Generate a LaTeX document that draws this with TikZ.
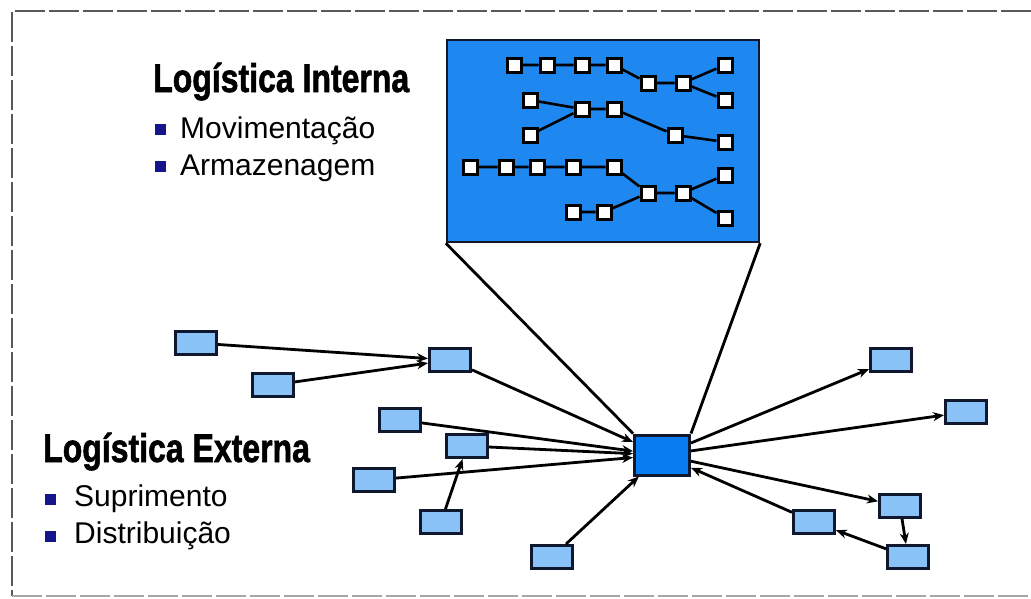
\documentclass[tikz,border=0pt]{standalone}
\usepackage{fontspec}
\setmainfont{Liberation Sans}
\newfontfamily\headfont{Liberation Sans}[BoldFeatures={FakeBold=1.6}]
\usetikzlibrary{arrows.meta}
\definecolor{bigblue}{HTML}{1E88F0}
\definecolor{hubblue}{HTML}{0A7CF2}
\definecolor{lightblue}{HTML}{88C2F6}
\definecolor{bulletblue}{HTML}{16168C}
\definecolor{edgedark}{HTML}{101830}
\begin{document}
\begin{tikzpicture}[x=1pt,y=-1pt,
  sbox/.style={draw=edgedark,line width=3pt,fill=lightblue,inner sep=0pt,minimum width=41pt,minimum height=23pt},
  hubbox/.style={draw=edgedark,line width=3pt,fill=hubblue,inner sep=0pt,minimum width=55pt,minimum height=40pt},
  wsq/.style={draw=black,line width=3pt,fill=white,inner sep=0pt,minimum size=14pt},
  net/.style={draw=black,line width=2.6pt},
  arr/.style={draw=black,line width=2.8pt,-{Stealth[length=11pt,width=9pt]}},
  plain/.style={draw=black,line width=2.8pt},
  frame/.style={draw=black!65,line width=2.4pt,dash pattern=on 30pt off 4pt},
  head/.style={anchor=base west,inner sep=0pt,font=\headfont\fontsize{40}{44}\selectfont\bfseries},
  item/.style={anchor=base west,inner sep=0pt,font=\fontsize{30}{34}\selectfont},
  bul/.style={fill=bulletblue,inner sep=0pt,minimum size=11pt}
]
\useasboundingbox (0,0) rectangle (1031,598);
% frame
\draw[frame] (1031,11) -- (12,11) -- (12,596);
\draw[frame,draw=black!35] (12,596) -- (1031,596);

% big blue box
\node[draw=edgedark,line width=2.4pt,fill=bigblue,inner sep=0pt,minimum width=312pt,minimum height=202pt] (big) at (603,141) {};

% inner network squares
\foreach \n/\x/\y in {r1a/514/65,r1b/547/65,r1c/582/65,r1d/614/65,r1e/648/83,r1f/683/83,r1g/725/65,r1h/725/100,
  r2a/530/100,r2b/530/135,r2c/582/109,r2d/614/109,r2e/675/135,r2f/725/142,
  r3a/470/167,r3b/506/167,r3c/537/167,r3d/573/167,r3e/614/167,r3f/648/193,r3g/683/193,r3h/725/175,r3i/725/218,r3j/573/212,r3k/604/212}
  {\node[wsq] (\n) at (\x,\y) {};}
\draw[net] (r1a)--(r1b) (r1b)--(r1c) (r1c)--(r1d) (r1d)--(r1e) (r1e)--(r1f) (r1f)--(r1g) (r1f)--(r1h);
\draw[net] (r2a)--(r2c) (r2b)--(r2c) (r2c)--(r2d) (r2d)--(r2e) (r2e)--(r2f);
\draw[net] (r3a)--(r3b) (r3b)--(r3c) (r3c)--(r3d) (r3d)--(r3e) (r3e)--(r3f) (r3f)--(r3g) (r3g)--(r3h) (r3g)--(r3i) (r3j)--(r3k) (r3k)--(r3f);

% hub and small boxes
\node[hubbox] (hub) at (662,455) {};
\node[sbox] (A) at (196,343) {};
\node[sbox] (B) at (273,385) {};
\node[sbox] (C) at (450,360) {};
\node[sbox] (D) at (400,420) {};
\node[sbox] (E) at (467,446) {};
\node[sbox] (F) at (374,480) {};
\node[sbox] (G) at (441,522) {};
\node[sbox] (H) at (552,557) {};
\node[sbox] (I) at (891,360) {};
\node[sbox] (J) at (966,412) {};
\node[sbox] (K) at (900,506) {};
\node[sbox] (L) at (814,522) {};
\node[sbox] (M) at (908,557) {};

% zoom lines
\draw[plain] (big.south west) -- (hub.north west);
\draw[plain] (big.south east) -- (hub.north east);

% connectors
\draw[arr] (A) -- (C);
\draw[arr] (B) -- (C);
\draw[arr] (C) -- (hub);
\draw[arr] (D) -- (hub);
\draw[arr] (E) -- (hub);
\draw[arr] (F) -- (hub);
\draw[arr] (G) -- (E);
\draw[arr] (H) -- (hub);
\draw[arr] (hub) -- (I);
\draw[arr] (hub) -- (J);
\draw[arr] (hub) -- (K);
\draw[arr] (L) -- (hub);
\draw[arr] (K) -- (M);
\draw[arr] (M) -- (L);

% texts
\node[head] (t1) at (153,92) {\scalebox{0.80}[1]{Logística Interna}};
\node[bul] (b1) at (160,129) {};
\node[item] (i1) at (180,138) {Movimentação};
\node[bul] (b2) at (160,166) {};
\node[item] (i2) at (180,175) {Armazenagem};

\node[head] (t2) at (43,462) {\scalebox{0.80}[1]{Logística Externa}};
\node[bul] (b3) at (50,499) {};
\node[item] (i3) at (74,506) {Suprimento};
\node[bul] (b4) at (50,536) {};
\node[item] (i4) at (74,543) {Distribuição};
\end{tikzpicture}
\end{document}
